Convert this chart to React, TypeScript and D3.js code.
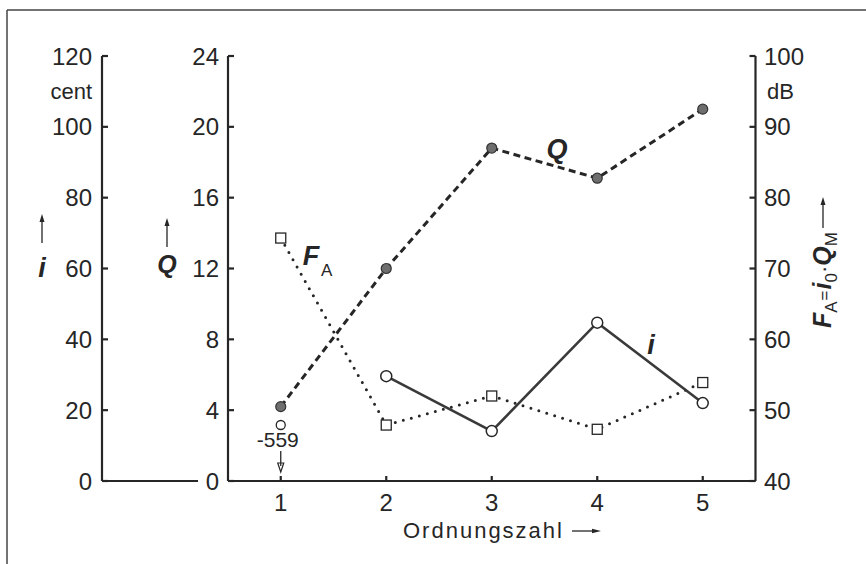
import React from "react";
import * as d3 from "d3";

// Ordinal numbers on the x axis
const ordnungszahl = [1, 2, 3, 4, 5];
// Q (dimensionless), filled circles, dashed
const qValues = [4.2, 12.0, 18.8, 17.1, 21.0];
// i (cent), open circles, solid; the value at ordinal 1 lies far off scale
const iValues: (number | null)[] = [null, 29.6, 14.1, 44.7, 22.0];
const iOffScaleValue = -559;
// F_A = i0 * Q_M (dB), open squares, dotted
const fValues = [74.3, 47.9, 52.0, 47.3, 53.9];

const iTicks = [0, 20, 40, 60, 80, 100, 120];
const qTicks = [0, 4, 8, 12, 16, 20, 24];
const fTicks = [40, 50, 60, 70, 80, 90, 100];

const W = 866;
const H = 564;
const FONT = "'Liberation Sans', Arial, Helvetica, sans-serif";
const INK = "#262626";

export default function App() {
  const x = d3.scaleLinear().domain([0.5, 5.5]).range([228, 755.5]);
  const yI = d3.scaleLinear().domain([0, 120]).range([481, 56]);
  const yQ = d3.scaleLinear().domain([0, 24]).range([481, 56]);
  const yF = d3.scaleLinear().domain([40, 100]).range([481, 56]);

  const iAxisX = 102;
  const qAxisX = x(0.5);
  const rAxisX = x(5.5);
  const base = yQ(0);

  const qPts = ordnungszahl.map((o, k) => [x(o), yQ(qValues[k])] as [number, number]);
  const fPts = ordnungszahl.map((o, k) => [x(o), yF(fValues[k])] as [number, number]);
  const iPts = ordnungszahl
    .map((o, k) => (iValues[k] == null ? null : ([x(o), yI(iValues[k] as number)] as [number, number])))
    .filter((p): p is [number, number] => p !== null);

  const line = d3.line<[number, number]>();

  const tickLen = 6;
  const labelSize = 24;

  // off-scale marker for i at ordinal 1 (placed just above the annotation)
  const offX = x(1);
  const offY = base - 56;

  return (
    <div style={{ position: "fixed", left: 0, top: 0, width: W, height: H, background: "#fff" }}>
      <svg width={W} height={H} viewBox={`0 0 ${W} ${H}`} style={{ display: "block" }} fontFamily={FONT}>
        <rect width={W} height={H} fill="#fff" />
        {/* frame */}
        <line x1={7} y1={10} x2={W} y2={10} stroke="#444" strokeWidth={1.5} />
        <line x1={7} y1={10} x2={7} y2={H} stroke="#444" strokeWidth={1.5} />

        {/* i axis (cent) */}
        <g stroke={INK} strokeWidth={2.2} fill="none">
          <line x1={iAxisX} y1={yI(120)} x2={iAxisX} y2={yI(0)} />
          <line x1={iAxisX} y1={yI(0)} x2={198} y2={yI(0)} />
          {iTicks.map((t) => (
            <line key={t} x1={iAxisX} x2={iAxisX + tickLen} y1={yI(t)} y2={yI(t)} />
          ))}
        </g>
        {iTicks.map((t) => (
          <text key={t} x={92} y={yI(t)} dy="0.36em" textAnchor="end" fontSize={labelSize} fill={INK}>
            {t}
          </text>
        ))}
        <text x={92} y={yI(110)} dy="0.36em" textAnchor="end" fontSize={22} fill={INK}>cent</text>
        {/* i axis title */}
        <line x1={42} y1={243} x2={42} y2={218} stroke={INK} strokeWidth={1.3} />
        <path d="M42,214 L39.5,222 L44.5,222 Z" fill={INK} />
        <text x={42} y={277} textAnchor="middle" fontSize={27} fontStyle="italic" fontWeight={700} fill={INK}>i</text>

        {/* Q axis */}
        <g stroke={INK} strokeWidth={2.2} fill="none">
          <line x1={qAxisX} y1={yQ(24)} x2={qAxisX} y2={yQ(0)} />
          <line x1={qAxisX} y1={base} x2={rAxisX} y2={base} />
          {qTicks.map((t) => (
            <line key={t} x1={qAxisX} x2={qAxisX + tickLen} y1={yQ(t)} y2={yQ(t)} />
          ))}
          {ordnungszahl.map((o) => (
            <line key={o} x1={x(o)} x2={x(o)} y1={base} y2={base - 5} />
          ))}
        </g>
        {qTicks.map((t) => (
          <text key={t} x={219} y={yQ(t)} dy="0.36em" textAnchor="end" fontSize={labelSize} fill={INK}>
            {t}
          </text>
        ))}
        <line x1={167} y1={247} x2={167} y2={222} stroke={INK} strokeWidth={1.3} />
        <path d="M167,218 L164.5,226 L169.5,226 Z" fill={INK} />
        <text x={167} y={273} textAnchor="middle" fontSize={25} fontStyle="italic" fontWeight={700} fill={INK}>Q</text>

        {/* right axis (dB) */}
        <g stroke={INK} strokeWidth={2.2} fill="none">
          <line x1={rAxisX} y1={yF(100)} x2={rAxisX} y2={yF(40)} />
          {fTicks.map((t) => (
            <line key={t} x1={rAxisX} x2={rAxisX - tickLen} y1={yF(t)} y2={yF(t)} />
          ))}
        </g>
        {fTicks.map((t) => (
          <text key={t} x={764} y={yF(t)} dy="0.36em" textAnchor="start" fontSize={labelSize} fill={INK}>
            {t}
          </text>
        ))}
        <text x={767} y={yF(95)} dy="0.36em" textAnchor="start" fontSize={22} fill={INK}>dB</text>
        {/* right axis title */}
        <g transform="translate(831,328) rotate(-90)" fill={INK}>
          <text x={0} y={0} fontSize={25} fontFamily={FONT}>
            <tspan fontStyle="italic" fontWeight={700}>F</tspan>
            <tspan fontSize={17} dy={6}>A</tspan>
            <tspan fontSize={17} dy={-7} dx={1}>=</tspan>
            <tspan fontStyle="italic" fontWeight={700} dx={1} dy={1}>i</tspan>
            <tspan fontSize={17} dy={6}>0</tspan>
            <tspan fontSize={22} dy={-6}>·</tspan>
            <tspan fontStyle="italic" fontWeight={700}>Q</tspan>
            <tspan fontSize={17} dy={6}>M</tspan>
          </text>
          <line x1={100} y1={-8} x2={126} y2={-8} stroke={INK} strokeWidth={1.3} />
          <path d="M131,-8 L123,-10.5 L123,-5.5 Z" />
        </g>

        {/* x axis labels */}
        {ordnungszahl.map((o) => (
          <text key={o} x={x(o)} y={511} textAnchor="middle" fontSize={labelSize} fill={INK}>
            {o}
          </text>
        ))}
        <text x={403} y={538} fontSize={22} letterSpacing={2} fill={INK}>Ordnungszahl</text>
        <line x1={572} y1={531} x2={596} y2={531} stroke={INK} strokeWidth={1.3} />
        <path d="M601,531 L592,528.8 L592,533.2 Z" fill={INK} />

        {/* F_A dotted line */}
        <path d={line(fPts) ?? ""} fill="none" stroke={INK} strokeWidth={3} strokeLinecap="round" strokeDasharray="0 8.3" />
        {/* Q dashed line */}
        <path d={line(qPts) ?? ""} fill="none" stroke={INK} strokeWidth={3} strokeDasharray="7 4.5" />
        {/* i solid line */}
        <path d={line(iPts) ?? ""} fill="none" stroke="#3a3a3a" strokeWidth={2.6} />

        {/* markers */}
        {fPts.map(([px, py], k) => (
          <rect key={k} x={px - 5} y={py - 5} width={10} height={10} fill="#fff" stroke={INK} strokeWidth={1.3} />
        ))}
        {qPts.map(([px, py], k) => (
          <circle key={k} cx={px} cy={py} r={5} fill="#6e6e6e" stroke="#333" strokeWidth={1.2} />
        ))}
        {iPts.map(([px, py], k) => (
          <circle key={k} cx={px} cy={py} r={5.5} fill="#fff" stroke={INK} strokeWidth={1.5} />
        ))}

        {/* off-scale i value at ordinal 1 */}
        <circle cx={offX} cy={offY} r={4.5} fill="#fff" stroke={INK} strokeWidth={1.3} />
        <text x={offX - 3} y={447} textAnchor="middle" fontSize={21} fill={INK}>
          {iOffScaleValue}
        </text>
        <line x1={offX} y1={451} x2={offX} y2={466} stroke={INK} strokeWidth={1.3} />
        <path d={`M${offX},472 L${offX - 3},463 L${offX + 3},463 Z`} fill="none" stroke={INK} strokeWidth={1.2} />

        {/* series labels */}
        <text x={557} y={158} textAnchor="middle" fontSize={27} fontStyle="italic" fontWeight={700} fill={INK}>Q</text>
        <text x={311} y={265} textAnchor="middle" fontSize={27} fontStyle="italic" fontWeight={700} fill={INK}>F</text>
        <text x={321} y={276} textAnchor="start" fontSize={17} fill={INK}>A</text>
        <text x={651} y={354} textAnchor="middle" fontSize={27} fontStyle="italic" fontWeight={700} fill={INK}>i</text>
      </svg>
    </div>
  );
}
